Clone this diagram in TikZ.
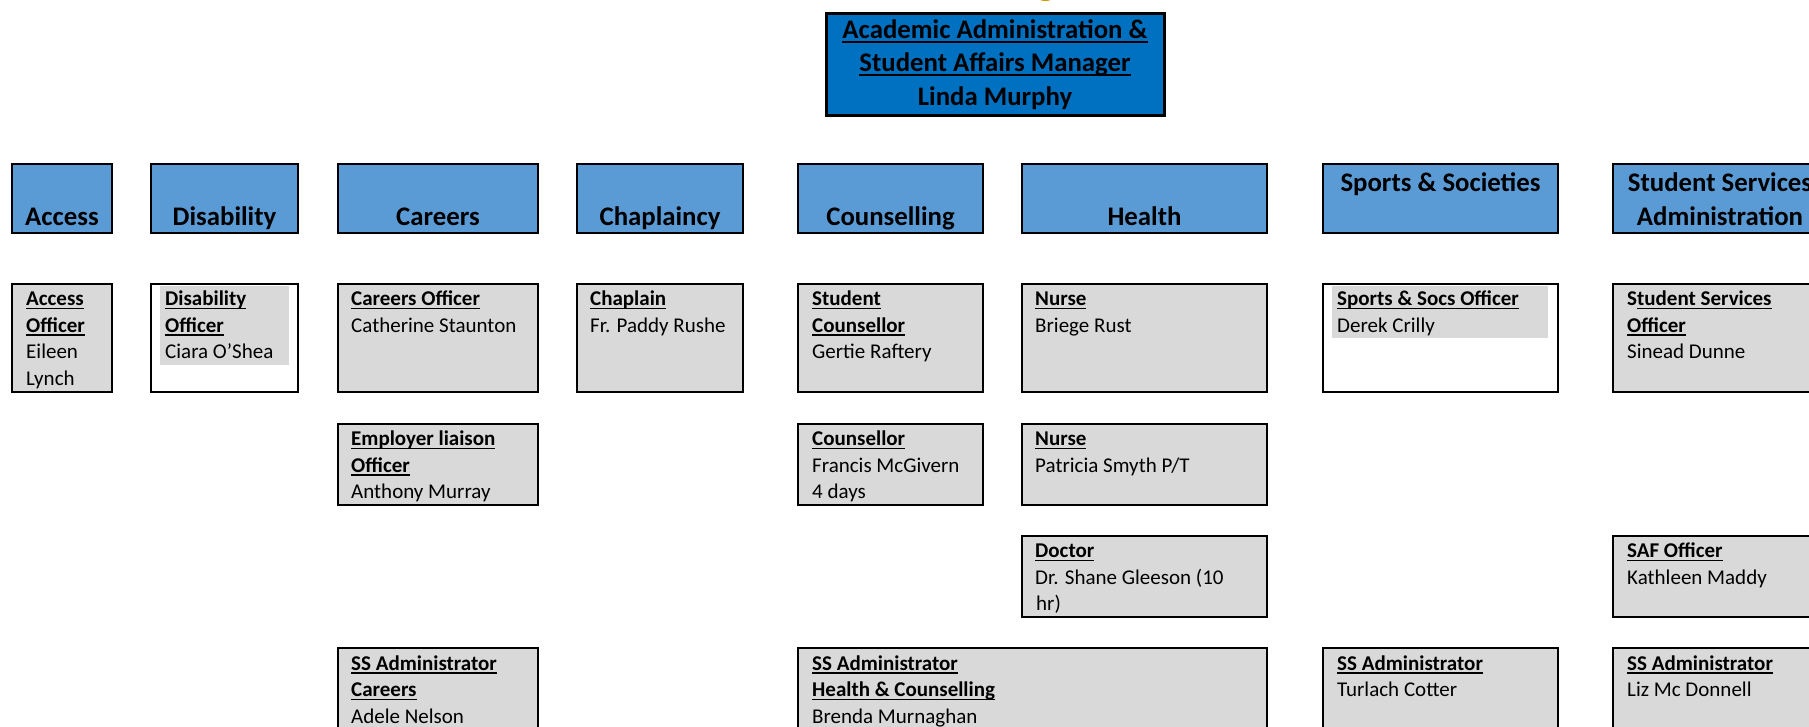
\documentclass[tikz,border=0pt]{standalone}
\usepackage{fontspec}
\setmainfont{Carlito}
\definecolor{hdrblue}{HTML}{5B9BD5}
\definecolor{topblue}{HTML}{0070C0}
\definecolor{cellgray}{HTML}{D9D9D9}
\definecolor{titlegold}{HTML}{C59A00}
\newcommand\ulx[1]{\setbox0\hbox{#1}\rlap{\rule[-0.17em]{\wd0}{0.07em}}\box0}
\newcommand\ttl[1]{\ulx{\textbf{#1}}}
\newcommand\bodyfont{\fontsize{21}{26.7}\selectfont}
\newcommand\headfont{\fontsize{26.8}{34}\selectfont\bfseries}
\newcommand\celltext[1]{\begin{tabular}[t]{@{}l@{}}#1\end{tabular}}
% \bx{name}{style}{x1}{y1}{x2}{y2}
\newcommand\bx[6]{\node[#2, anchor=north west, inner sep=0pt, outer sep=0pt,
  minimum width={(#5-#3)*1pt}, minimum height={(#6-#4)*1pt}] (#1) at (#3,#4) {};}
\tikzset{
  box/.style={draw=black, line width=2.5pt},
  topbox/.style={draw=black, line width=3pt, fill=topblue},
  hdr/.style={box, fill=hdrblue},
  cell/.style={box, fill=cellgray},
  wcell/.style={box, fill=white},
  hilite/.style={fill=cellgray, draw=none},
  txt/.style={anchor=base west, inner sep=0pt, font=\bodyfont},
  htxt/.style={anchor=base, inner sep=0pt, font=\headfont},
}
\begin{document}
\begin{tikzpicture}[x=1pt, y=-1pt]
\useasboundingbox (0,0) rectangle (1809,726);
\clip (0,0) rectangle (1809,726);

% partial title glyph at the top edge
\node[anchor=base, inner sep=0pt, text=titlegold, font=\fontsize{36}{40}\selectfont\bfseries] (title) at (1046,-5) {g};

% top manager box
\bx{top}{topbox}{826}{13}{1164}{115}
\node[anchor=base, inner sep=0pt, font=\fontsize{26.8}{33.5}\selectfont\bfseries] (topT) at (995,38)
  {\begin{tabular}[t]{@{}c@{}}\ulx{Academic Administration \&}\\\ulx{Student Affairs Manager}\\Linda Murphy\end{tabular}};

% department headers
\bx{hAcc}{hdr}{12}{164}{112}{233}
\bx{hDis}{hdr}{151}{164}{298}{233}
\bx{hCar}{hdr}{338}{164}{538}{233}
\bx{hCha}{hdr}{577}{164}{743}{233}
\bx{hCou}{hdr}{798}{164}{983}{233}
\bx{hHea}{hdr}{1022}{164}{1267}{233}
\bx{hSpo}{hdr}{1323}{164}{1558}{233}
\bx{hSsa}{hdr}{1613}{164}{1830}{233}
\node[htxt] (hAccT) at (62,225) {Access};
\node[htxt] (hDisT) at (224.5,225) {Disability};
\node[htxt] (hCarT) at (438,225) {Careers};
\node[htxt] (hChaT) at (660,225) {Chaplaincy};
\node[htxt] (hCouT) at (890.5,225) {Counselling};
\node[htxt] (hHeaT) at (1144.5,225) {Health};
\node[htxt] (hSpoT) at (1440.5,191) {Sports \& Societies};
\node[htxt] (hSsaT1) at (1720,191) {Student Services};
\node[htxt] (hSsaT2) at (1720,225) {Administration};

% row 2
\bx{acc}{cell}{12}{284}{112}{392}
\bx{dis}{wcell}{151}{284}{298}{392}
\bx{car}{cell}{338}{284}{538}{392}
\bx{cha}{cell}{577}{284}{743}{392}
\bx{cou}{cell}{798}{284}{983}{392}
\bx{hea}{cell}{1022}{284}{1267}{392}
\bx{spo}{wcell}{1323}{284}{1558}{392}
\bx{ssa}{cell}{1613}{284}{1830}{392}
\fill[hilite] (160,285.5) rectangle (289,365);
\fill[hilite] (1332,285.5) rectangle (1548,338);

\node[txt] (accT) at (26,305.5) {\celltext{\ttl{Access}\\\ttl{Officer}\\Eileen\\Lynch}};
\node[txt] (disT) at (165,305.5) {\celltext{\ttl{Disability}\\\ttl{Officer}\\Ciara O’Shea}};
\node[txt] (carT) at (351,305.5) {\celltext{\ttl{Careers Officer}\\Catherine Staunton}};
\node[txt] (chaT) at (590,305.5) {\celltext{\ttl{Chaplain}\\Fr. Paddy Rushe}};
\node[txt] (couT) at (812,305.5) {\celltext{\ttl{Student}\\\ttl{Counsellor}\\Gertie Raftery}};
\node[txt] (heaT) at (1035,305.5) {\celltext{\ttl{Nurse}\\Briege Rust}};
\node[txt] (spoT) at (1337,305.5) {\celltext{\ttl{Sports \& Socs Officer}\\Derek Crilly}};
\node[txt] (ssaT) at (1627,305.5) {\celltext{\textbf{S}\ttl{tudent Services}\\\ttl{Officer}\\Sinead Dunne}};

% row 3
\bx{emp}{cell}{338}{424}{538}{505}
\bx{cns}{cell}{798}{424}{983}{505}
\bx{nur}{cell}{1022}{424}{1267}{505}
\node[txt] (empT) at (351,445.5) {\celltext{\ttl{Employer liaison}\\\ttl{Officer}\\Anthony Murray}};
\node[txt] (cnsT) at (812,445.5) {\celltext{\ttl{Counsellor}\\Francis McGivern\\4 days}};
\node[txt] (nurT) at (1035,445.5) {\celltext{\ttl{Nurse}\\Patricia Smyth P/T}};

% row 4
\bx{doc}{cell}{1022}{536}{1267}{617}
\bx{saf}{cell}{1613}{536}{1830}{617}
\node[txt] (docT) at (1035,557.5) {\celltext{\ttl{Doctor}\\Dr. Shane Gleeson (10\\\kern1pt hr)}};
\node[txt] (safT) at (1627,557.5) {\celltext{\ttl{SAF Officer}\\Kathleen Maddy}};

% row 5
\bx{ssc}{cell}{338}{648}{538}{760}
\bx{shc}{cell}{798}{648}{1267}{760}
\bx{sst}{cell}{1323}{648}{1558}{760}
\bx{ssl}{cell}{1613}{648}{1830}{760}
\node[txt] (sscT) at (351,670) {\celltext{\ttl{SS Administrator}\\\ttl{Careers}\\Adele Nelson}};
\node[txt] (shcT) at (812,670) {\celltext{\ttl{SS Administrator}\\\ttl{Health \& Counselling}\\Brenda Murnaghan}};
\node[txt] (sstT) at (1337,670) {\celltext{\ttl{SS Administrator}\\Turlach Cotter}};
\node[txt] (sslT) at (1627,670) {\celltext{\ttl{SS Administrator}\\Liz Mc Donnell}};
\end{tikzpicture}
\end{document}
